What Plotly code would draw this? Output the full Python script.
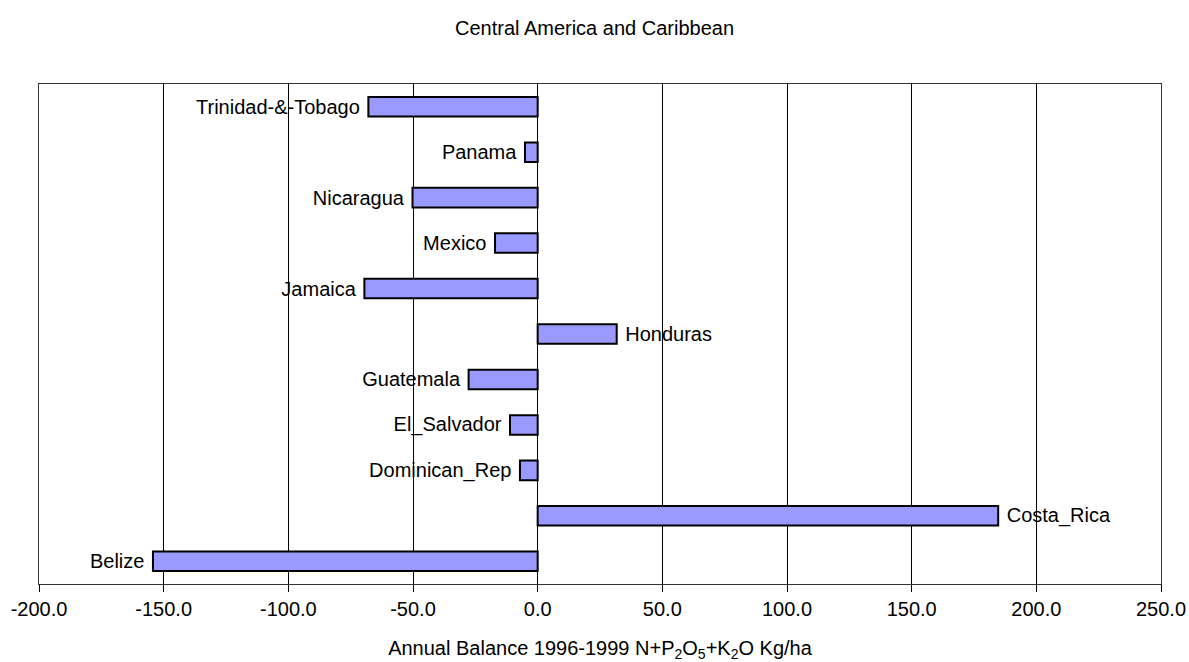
import plotly.graph_objects as go

countries = ["Belize", "Costa_Rica", "Dominican_Rep", "El_Salvador", "Guatemala",
             "Honduras", "Jamaica", "Mexico", "Nicaragua", "Panama", "Trinidad-&-Tobago"]
balance = [-154.3, 184.7, -7.1, -11.1, -27.7, 31.7, -69.5, -17.1, -50.2, -5.1, -67.9]
tick_vals = [-200, -150, -100, -50, 0, 50, 100, 150, 200, 250]
tick_text = [f"{v:.1f}" for v in tick_vals]

FONT = "Liberation Sans, Arial, sans-serif"
NB = "\u00a0"
labels = [(c + NB) if v < 0 else (NB + c) for c, v in zip(countries, balance)]

fig = go.Figure(go.Bar(
    y=countries, x=balance, orientation="h",
    marker=dict(color="#9999FF", line=dict(color="black", width=2)),
    text=labels, textposition="outside", constraintext="none",
    textfont=dict(family=FONT, size=20, color="black"),
    cliponaxis=False, width=0.43,
))

fig.update_layout(
    width=1189, height=662,
    paper_bgcolor="white", plot_bgcolor="white",
    margin=dict(l=39, r=28, t=84, b=78, autoexpand=False),
    title=dict(text="Central America and Caribbean", x=0.5, xanchor="center",
               y=1 - 28 / 662, yanchor="middle",
               font=dict(family=FONT, size=20, color="black")),
    showlegend=False,
    font=dict(family=FONT, color="black"),
)
fig.update_xaxes(
    range=[-200, 250], tickvals=tick_vals, ticktext=tick_text,
    ticks="outside", ticklen=7, tickcolor="black",
    showgrid=True, gridcolor="black", gridwidth=1,
    zeroline=False, showline=True, linecolor="#333", linewidth=1, mirror=True,
    tickfont=dict(family=FONT, size=20, color="black"),
    automargin=False,
    title=dict(text="Annual Balance 1996-1999 N+P<sub>2</sub>O<sub>5</sub>+K<sub>2</sub>O Kg/ha",
               font=dict(family=FONT, size=20, color="black"), standoff=23),
)
fig.update_yaxes(
    showticklabels=False, showgrid=False, zeroline=False,
    showline=True, linecolor="#333", linewidth=1, mirror=True,
    automargin=False,
    categoryorder="array", categoryarray=countries,
)

fig.write_html("out.html", config={"displayModeBar": False},
               post_script="document.body.style.margin='0';document.body.style.overflow='hidden';")
